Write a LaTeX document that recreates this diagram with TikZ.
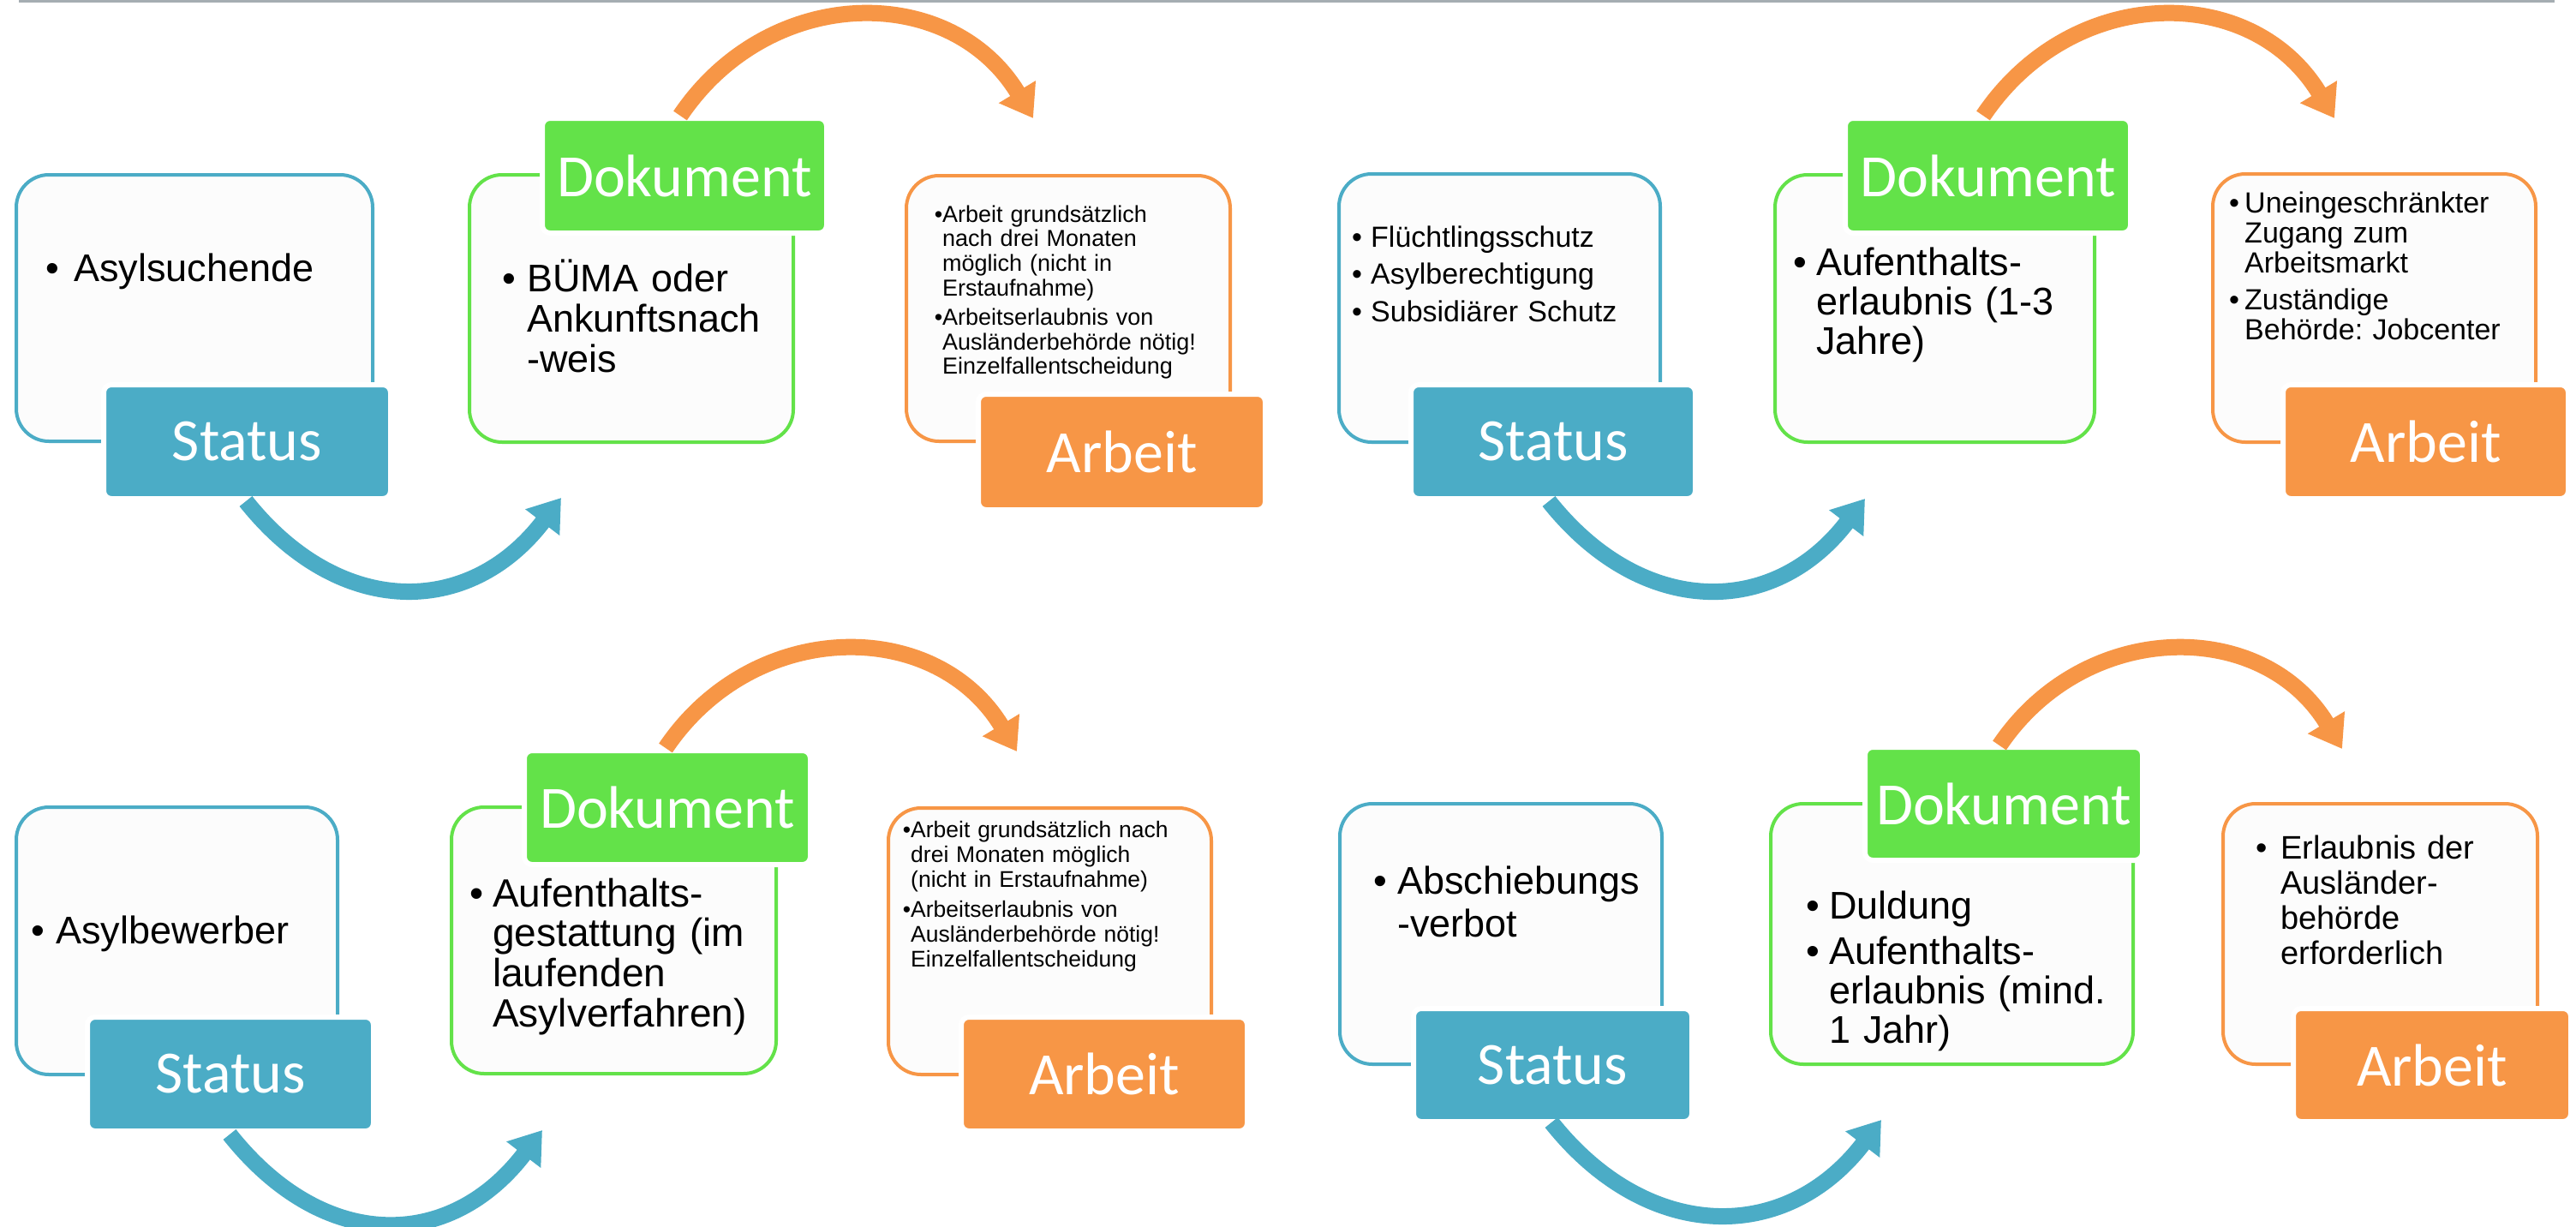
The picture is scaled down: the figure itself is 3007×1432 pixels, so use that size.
\documentclass[tikz,border=0pt]{standalone}
\usepackage{fontspec}
\setmainfont{Liberation Sans}
\newfontfamily\labfont{Carlito}
\usetikzlibrary{arrows.meta}
\definecolor{cblue}{HTML}{4BACC6}
\definecolor{cgreen}{HTML}{63E249}
\definecolor{corange}{HTML}{F79646}
\definecolor{cbox}{HTML}{FCFCFC}
\definecolor{cline}{HTML}{A5ADB2}
\newcommand\bul[1]{\leavevmode\llap{\makebox[#1pt][l]{•}}}
\newcommand\sbul{\leavevmode\llap{•}}
\frenchspacing
\begin{document}
\begin{tikzpicture}[x=1pt,y=-1pt,
  obox/.style={line width=4pt, fill=cbox, rounded corners=38pt, inner sep=0pt},
  lab/.style={draw=white, line width=6pt, rounded corners=9pt, text=white, inner sep=0pt,
    font={\labfont\fontsize{70pt}{84pt}\selectfont}},
  txt/.style 2 args={anchor=base west, inner sep=0pt, text width=640pt, align=left,
    font={\frenchspacing\fontsize{#1pt}{#2pt}\selectfont}},
  barrow/.style={draw=cblue, line width=19pt, -{Triangle[length=36pt,width=48pt]}},
  oarrow/.style={draw=corange, line width=19pt, -{Triangle[length=36pt,width=48pt]}}]
\useasboundingbox (0,0) rectangle (3007,1432);
\clip (0,0) rectangle (3007,1432);
\fill[white] (0,0) rectangle (3007,1432);
% top rule
\coordinate (ruleL) at (22,1.5);
\coordinate (ruleR) at (2982,1.5);
\draw[cline, line width=3pt] (ruleL) -- (ruleR);

% ================= TOP LEFT =================
\node[obox, draw=cblue, minimum width=416pt, minimum height=311pt] (tlS) at (227,359.5) {};
\node[obox, draw=cgreen, minimum width=378pt, minimum height=312pt] (tlD) at (737,360) {};
\node[obox, draw=corange, minimum width=378pt, minimum height=310pt] (tlA) at (1247,360) {};
\node[lab, fill=cblue, minimum width=335pt, minimum height=133pt] (tlSL) at (288.5,515.5) {Status};
\node[lab, fill=cgreen, minimum width=332pt, minimum height=134pt] (tlDL) at (799,205) {Dokument};
\node[lab, fill=corange, minimum width=335pt, minimum height=135pt] (tlAL) at (1309.5,527.5) {Arbeit};
\node[txt={45}{47}] (tlSt) at (86,328) {\bul{33}Asylsuchende};
\node[txt={45}{47}] (tlDt) at (615,340) {\bul{29}BÜMA oder\\Ankunftsnach\\-weis};
\node[txt={27}{28.7}] (tlAt) at (1100,259) {\sbul Arbeit grundsätzlich\\nach drei Monaten\\möglich (nicht in\\Erstaufnahme)\\[5.6pt]\sbul Arbeitserlaubnis von\\Ausländerbehörde nötig!\\Einzelfallentscheidung};
\coordinate (tlB0) at (287,585);
\coordinate (tlB1) at (655,581);
\draw[barrow] (tlB0) .. controls (395.8,721.9) and (547.9,721.4) .. (tlB1);
\coordinate (tlO0) at (794,135);
\coordinate (tlO1) at (1206,138);
\draw[oarrow] (tlO0) .. controls (897.8,-18.8) and (1109.6,-21.4) .. (tlO1);

% ================= TOP RIGHT =================
\node[obox, draw=cblue, minimum width=375pt, minimum height=313pt] (trS) at (1750.5,359.5) {};
\node[obox, draw=cgreen, minimum width=373pt, minimum height=312pt] (trD) at (2258.5,360) {};
\node[obox, draw=corange, minimum width=377pt, minimum height=313pt] (trA) at (2771.5,359.5) {};
\node[lab, fill=cblue, minimum width=332pt, minimum height=133pt] (trSL) at (1813,515.5) {Status};
\node[lab, fill=cgreen, minimum width=333pt, minimum height=134pt] (trDL) at (2320.5,205) {Dokument};
\node[lab, fill=corange, minimum width=333pt, minimum height=133pt] (trAL) at (2831.5,515.5) {Arbeit};
\node[txt={34}{43.5}] (trSt) at (1600,288) {\bul{22}Flüchtlingsschutz\\\bul{22}Asylberechtigung\\\bul{22}Subsidiärer Schutz};
\node[txt={45}{46}] (trDt) at (2120,321) {\bul{27}Aufenthalts-\\erlaubnis (1-3\\Jahre)};
\node[txt={34}{35}] (trAt) at (2620,248) {\bul{18}Uneingeschränkter\\Zugang zum\\Arbeitsmarkt\\[8pt]\bul{18}Zuständige\\Behörde: Jobcenter};
\coordinate (trB0) at (1808,585);
\coordinate (trB1) at (2177,582);
\draw[barrow] (trB0) .. controls (1916.3,721.3) and (2070.4,721.8) .. (trB1);
\coordinate (trO0) at (2315,135);
\coordinate (trO1) at (2725,138);
\draw[oarrow] (trO0) .. controls (2418.8,-18.8) and (2628.6,-21.4) .. (trO1);

% ================= BOTTOM LEFT =================
\node[obox, draw=cblue, minimum width=375pt, minimum height=312pt] (blS) at (206.5,1098) {};
\node[obox, draw=cgreen, minimum width=379pt, minimum height=311pt] (blD) at (716.5,1097.5) {};
\node[obox, draw=corange, minimum width=377pt, minimum height=311pt] (blA) at (1225.5,1098.5) {};
\node[lab, fill=cblue, minimum width=334pt, minimum height=133pt] (blSL) at (269,1253.5) {Status};
\node[lab, fill=cgreen, minimum width=334pt, minimum height=133pt] (blDL) at (779,942.5) {Dokument};
\node[lab, fill=corange, minimum width=334pt, minimum height=133pt] (blAL) at (1289,1253.5) {Arbeit};
\node[txt={45}{47}] (blSt) at (65,1101) {\bul{29}Asylbewerber};
\node[txt={46}{46.7}] (blDt) at (575,1058) {\bul{27}Aufenthalts-\\gestattung (im\\laufenden\\Asylverfahren)};
\node[txt={26.5}{29}] (blAt) at (1063,977) {\sbul Arbeit grundsätzlich nach\\drei Monaten möglich\\(nicht in Erstaufnahme)\\[6pt]\sbul Arbeitserlaubnis von\\Ausländerbehörde nötig!\\Einzelfallentscheidung};
\coordinate (blB0) at (268,1324);
\coordinate (blB1) at (633,1319);
\draw[barrow] (blB0) .. controls (377.7,1462) and (525,1460.6) .. (blB1);
\coordinate (blO0) at (777,873);
\coordinate (blO1) at (1187,877);
\draw[oarrow] (blO0) .. controls (879.5,721.1) and (1091.8,719.6) .. (blO1);

% ================= BOTTOM RIGHT =================
\node[obox, draw=cblue, minimum width=376pt, minimum height=304pt] (brS) at (1752,1090) {};
\node[obox, draw=cgreen, minimum width=423pt, minimum height=304pt] (brD) at (2278.5,1090) {};
\node[obox, draw=corange, minimum width=367pt, minimum height=304pt] (brA) at (2778.5,1090) {};
\node[lab, fill=cblue, minimum width=325pt, minimum height=132pt] (brSL) at (1812.5,1243) {Status};
\node[lab, fill=cgreen, minimum width=324pt, minimum height=132pt] (brDL) at (2339,938) {Dokument};
\node[lab, fill=corange, minimum width=324pt, minimum height=132pt] (brAL) at (2839,1243) {Arbeit};
\node[txt={45}{50}] (brSt) at (1631,1043) {\bul{28}Abschiebungs\\-verbot};
\node[txt={45}{46}] (brDt) at (2135,1072) {\bul{27}Duldung\\[7pt]\bul{27}Aufenthalts-\\erlaubnis (mind.\\1 Jahr)};
\node[txt={38}{41}] (brAt) at (2662,1002) {\bul{29}Erlaubnis der\\Ausländer-\\behörde\\erforderlich};
\coordinate (brB0) at (1811,1310);
\coordinate (brB1) at (2196,1307);
\draw[barrow] (brB0) .. controls (1923.5,1451.5) and (2085.3,1452.1) .. (brB1);
\coordinate (brO0) at (2334,870);
\coordinate (brO1) at (2734,874);
\draw[oarrow] (brO0) .. controls (2433.8,722.1) and (2641.3,720.7) .. (brO1);
\end{tikzpicture}
\end{document}
